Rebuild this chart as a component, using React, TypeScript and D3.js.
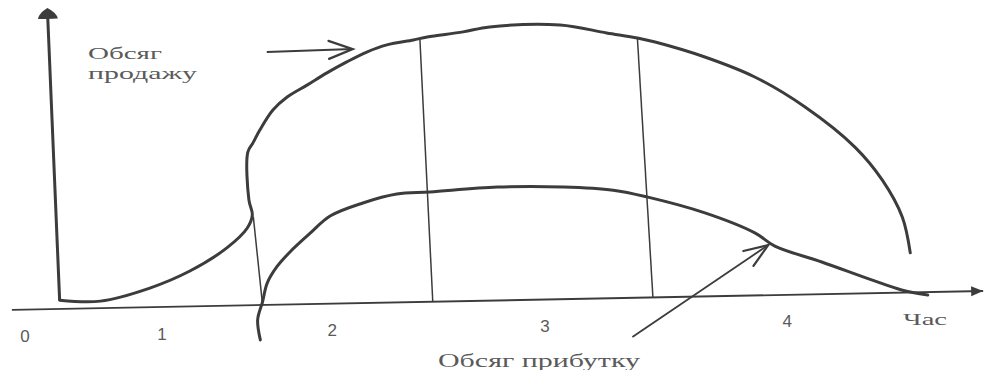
import React from "react";
import * as d3 from "d3";

// Data in (time, volume) units: time 0..100 along the axis, volume 0..100 up the axis
const salesCurve: [number, number][] = [
  [0, 3.0], [4.4, 2.4], [9.8, 6.5], [14.2, 12.0], [18.3, 19.6], [20.6, 26.2], [21.2, 30.6],
  [20.9, 35.7], [21.0, 51.9], [21.6, 55.0], [22.4, 59.3], [23.9, 66.0], [25.5, 70.3],
  [27.7, 74.2], [29.9, 78.2], [32.1, 81.8], [34.3, 85.0], [36.5, 87.3], [39.4, 88.8],
  [40.9, 89.7], [44.8, 91.2], [47.7, 92.7],
  [55.3, 92.9], [60.3, 89.9], [63.6, 88.0], [65.5, 86.5], [70.8, 81.1], [76.1, 74.0],
  [81.4, 63.5], [86.6, 49.6], [89.4, 38.3], [91.4, 25.6], [92.1, 13.4],
];
const profitCurve: [number, number][] = [
  [21.5, -11.8], [21.3, -5.0], [21.9, 1.0], [22.5, 7.4], [23.6, 12.8], [25.1, 17.8],
  [27.4, 24.1], [29.6, 29.7], [33.2, 33.9], [36.9, 36.7], [40.5, 37.2], [47.8, 38.4],
  [54.9, 38.0], [60.3, 36.6], [63.9, 34.1], [70.1, 28.3], [75.4, 21.2], [77.5, 16.6],
  [82.5, 10.9], [87.8, 4.5], [91.0, 0.9], [93.8, -1.0],
];
const stageDividers: [number, number][][] = [
  [[21.3, 30], [21.9, 0]],
  [[40.1, 89], [40.3, 0]],
  [[63.6, 88], [64.1, 0]],
];
const stageLabels = ["0", "1", "2", "3", "4"];
const stageLabelTimes = [-3.9, 10.9, 29.3, 52.3, 78.5];
const timeTitle = "Час";
const timeTitleAt = 93.4;
const salesLabel = ["Обсяг", "продажу"];
const salesLabelAt: [number, number][] = [[4.15, 84.5], [4.07, 77.7]];
const profitLabel = "Обсяг прибутку";
const profitLabelAt: [number, number] = [40.57, -22.1];
const salesArrow: [number, number][] = [[23.5, 85.7], [32.8, 86.1]];
const profitArrow: [number, number][] = [[61.7, -13.3], [76.8, 17.0]];
const timeAxisExtent = [-5.2, 99.8];
const volumeAxisExtent = [3, 99];

export default function App() {
  const W = 985, H = 370;
  const x = d3.scaleLinear().domain([0, 100]).range([0, 925]);
  const y = d3.scaleLinear().domain([0, 100]).range([0, -295]);
  // the scanned sheet is slightly skewed
  const P = (t: number, v: number): [number, number] => {
    const lx = x(t), ly = y(v);
    return [60 + lx + 0.042 * ly, 309 - 0.0195 * lx + ly];
  };
  const straight = d3.line<[number, number]>()
    .x(d => P(d[0], d[1])[0]).y(d => P(d[0], d[1])[1]);
  const smooth = d3.line<[number, number]>()
    .x(d => P(d[0], d[1])[0]).y(d => P(d[0], d[1])[1])
    .curve(d3.curveCatmullRom.alpha(0.5));

  const ink = "#3c3c3c";
  const textInk = "#5a5a5a";
  const serif = "'Liberation Serif', 'DejaVu Serif', serif";
  const sans = "'Liberation Sans', Arial, sans-serif";

  const xAxisPts: [number, number][] = [[timeAxisExtent[0], 0], [timeAxisExtent[1], 0]];
  const yAxisPts: [number, number][] = [[0, volumeAxisExtent[0]], [0, volumeAxisExtent[1]]];

  return (
    <svg width={W} height={H} style={{ position: "absolute", left: 0, top: 0, background: "#fff" }}>
      <defs>
        <marker id="filledX" markerUnits="userSpaceOnUse" markerWidth={14} markerHeight={12}
          refX={12} refY={5} orient="auto">
          <path d="M0,0 L12,5 L0,10 z" fill={ink} />
        </marker>
        <marker id="filledY" markerUnits="userSpaceOnUse" markerWidth={14} markerHeight={24}
          refX={2} refY={11} orient="auto">
          <path d="M0,1 Q6,2 11,11 Q6,20 0,21 Z" fill={ink} />
        </marker>
        <marker id="open" markerUnits="userSpaceOnUse" markerWidth={30} markerHeight={24}
          refX={26} refY={11} orient="auto">
          <path d="M2,2 L26,11 L2,20" fill="none" stroke={ink} strokeWidth={2.2} strokeLinecap="round" />
        </marker>
      </defs>
      <rect width={W} height={H} fill="#fff" />

      {/* axes */}
      <path d={straight(xAxisPts) ?? ""} stroke={ink} strokeWidth={1.8} fill="none" markerEnd="url(#filledX)" />
      <path d={straight(yAxisPts) ?? ""} stroke={ink} strokeWidth={3} fill="none" markerEnd="url(#filledY)" />

      {/* stage dividers */}
      {stageDividers.map((seg, i) => (
        <path key={i} d={straight(seg) ?? ""} stroke={ink} strokeWidth={1.5} fill="none" />
      ))}

      {/* curves */}
      <path d={smooth(salesCurve) ?? ""} stroke={ink} strokeWidth={3} fill="none"
        strokeLinejoin="round" strokeLinecap="round" />
      <path d={smooth(profitCurve) ?? ""} stroke={ink} strokeWidth={3} fill="none"
        strokeLinejoin="round" strokeLinecap="round" />

      {/* annotation arrows */}
      <path d={straight(salesArrow) ?? ""} stroke={ink} strokeWidth={2} fill="none" markerEnd="url(#open)" />
      <path d={straight(profitArrow) ?? ""} stroke={ink} strokeWidth={1.8} fill="none" markerEnd="url(#open)" />

      {/* stage labels */}
      {stageLabels.map((s, i) => {
        const [px, py] = P(stageLabelTimes[i], -9);
        return (
          <text key={s} x={px} y={py} dy="0.35em" textAnchor="middle" fontFamily={sans}
            fontSize={17} fill={textInk}>{s}</text>
        );
      })}
      {(() => {
        const [px, py] = P(timeTitleAt, -9);
        return (
          <text x={px} y={py} dy="0.35em" textAnchor="middle" fontFamily={serif} fontSize={17}
            fill={textInk} textLength={44} lengthAdjust="spacingAndGlyphs">{timeTitle}</text>
        );
      })()}

      {/* curve labels */}
      {salesLabel.map((s, i) => {
        const [px, py] = P(salesLabelAt[i][0], salesLabelAt[i][1]);
        return (
          <text key={s} x={px} y={py} fontFamily={serif} fontSize={16.5} fill={textInk}
            textLength={i === 0 ? 74 : 109} lengthAdjust="spacingAndGlyphs">{s}</text>
        );
      })}
      {(() => {
        const [px, py] = P(profitLabelAt[0], profitLabelAt[1]);
        return (
          <text x={px} y={py} fontFamily={serif} fontSize={18} fill={textInk}
            textLength={202} lengthAdjust="spacingAndGlyphs">{profitLabel}</text>
        );
      })()}
    </svg>
  );
}
